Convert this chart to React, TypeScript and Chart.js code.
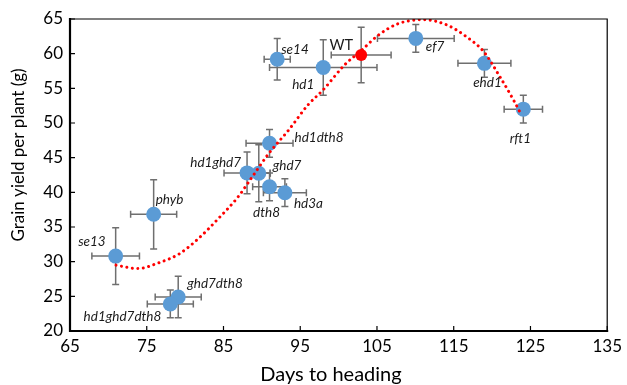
import React, { useEffect, useRef } from "react";
import { Chart, registerables } from "chart.js";

Chart.register(...registerables);

// ---- data ----
const lines: string[] = ["se13", "phyb", "ghd7dth8", "hd1ghd7dth8", "hd1ghd7", "ghd7", "dth8", "hd3a", "hd1dth8", "se14", "hd1", "ef7", "ehd1", "rft1"];
const days: number[] = [70.95, 75.9, 79.1, 78.07, 88.07, 89.6, 91.0, 93.0, 91.0, 92.0, 98.0, 110.06, 119.0, 124.07];
const yieldG: number[] = [30.8, 36.83, 24.9, 23.9, 42.8, 42.75, 40.8, 39.95, 47.07, 59.2, 58.0, 62.2, 58.6, 52.0];
const daysErr: number[] = [3.1, 3.0, 3.0, 3.0, 3.0, 1.5, 2.2, 2.8, 3.06, 1.7, 7.0, 5.0, 3.45, 2.5];
const yieldErr: number[] = [4.1, 5.0, 3.0, 2.0, 3.0, 4.1, 2.0, 2.0, 2.0, 3.0, 4.0, 2.0, 2.0, 2.0];

const wtLabel = "WT";
const wtDays: number[] = [102.94];
const wtYield: number[] = [59.8];
const wtDaysErr: number[] = [3.9];
const wtYieldErr: number[] = [4.0];

// trend curve
const trendDays: number[] = [71.0, 73.8, 76.6, 79.2, 81.8, 84.4, 86.8, 88.6, 90.9, 93.5, 96.0, 98.0, 100.8, 102.9, 105.1, 107.7, 111.1, 114.2, 116.7, 118.9, 121.0, 122.8, 123.8];
const trendYield: number[] = [29.5, 29.0, 29.85, 31.1, 33.4, 36.3, 39.2, 42.0, 45.6, 49.0, 52.6, 54.8, 58.4, 60.4, 62.6, 64.3, 64.9, 64.1, 62.4, 60.3, 56.7, 53.3, 51.2];

const xTicks: number[] = [65, 75, 85, 95, 105, 115, 125, 135];
const yTicks: number[] = [20, 25, 30, 35, 40, 45, 50, 55, 60, 65];

const xTitle = "Days to heading";
const yTitle = "Grain yield per plant (g)";

// label placement: [dx, dy, align] relative to the marker (layout only)
const labelPlacement: [number, number, CanvasTextAlign][] = [
  [-10, -14, "right"],
  [2, -15, "left"],
  [9, -13, "left"],
  [-9, 13, "right"],
  [-6, -10, "right"],
  [14, -8, "left"],
  [-3, 26, "center"],
  [9, 11, "left"],
  [25, -6, "left"],
  [4, -10, "left"],
  [-9, 17, "right"],
  [10, 8, "left"],
  [3, 19, "center"],
  [-3, 30, "center"],
];
const wtPlacement: [number, number, CanvasTextAlign] = [-8, -10, "right"];

const FONT = "Lato, 'Open Sans', sans-serif";
const BLUE = "#5b9bd5";
const RED = "#ff0000";
const BAR = "#6f6f6f";

const overlay = {
  id: "overlay",
  beforeDatasetsDraw(chart: any) {
    const { ctx, scales } = chart;
    const xs = scales.x, ys = scales.y;
    ctx.save();
    ctx.strokeStyle = BAR;
    ctx.lineWidth = 1.5;
    const cap = 3.5;
    const drawBars = (x: number, y: number, ex: number, ey: number) => {
      const px = xs.getPixelForValue(x), py = ys.getPixelForValue(y);
      const x0 = xs.getPixelForValue(x - ex), x1 = xs.getPixelForValue(x + ex);
      const y0 = ys.getPixelForValue(y - ey), y1 = ys.getPixelForValue(y + ey);
      ctx.beginPath();
      ctx.moveTo(x0, py); ctx.lineTo(x1, py);
      ctx.moveTo(x0, py - cap); ctx.lineTo(x0, py + cap);
      ctx.moveTo(x1, py - cap); ctx.lineTo(x1, py + cap);
      ctx.moveTo(px, y0); ctx.lineTo(px, y1);
      ctx.moveTo(px - cap, y0); ctx.lineTo(px + cap, y0);
      ctx.moveTo(px - cap, y1); ctx.lineTo(px + cap, y1);
      ctx.stroke();
    };
    days.forEach((d, i) => drawBars(d, yieldG[i], daysErr[i], yieldErr[i]));
    wtDays.forEach((d, i) => drawBars(d, wtYield[i], wtDaysErr[i], wtYieldErr[i]));
    ctx.restore();
  },
  afterDatasetsDraw(chart: any) {
    const { ctx, scales, chartArea } = chart;
    const xs = scales.x, ys = scales.y;
    ctx.save();
    ctx.fillStyle = "#1a1a1a";
    ctx.textBaseline = "middle";
    ctx.font = `italic 13.5px ${FONT}`;
    lines.forEach((name, i) => {
      const [dx, dy, al] = labelPlacement[i];
      ctx.textAlign = al;
      ctx.fillText(name, xs.getPixelForValue(days[i]) + dx, ys.getPixelForValue(yieldG[i]) + dy);
    });
    ctx.font = `14.5px ${FONT}`;
    ctx.textAlign = wtPlacement[2];
    ctx.fillText(wtLabel, xs.getPixelForValue(wtDays[0]) + wtPlacement[0], ys.getPixelForValue(wtYield[0]) + wtPlacement[1]);

    // frame
    const { left, right, top, bottom } = chartArea;
    ctx.strokeStyle = "#000";
    ctx.lineWidth = 1.2;
    ctx.beginPath();
    ctx.moveTo(left, top); ctx.lineTo(right, top); ctx.lineTo(right, bottom);
    ctx.stroke();
    ctx.lineWidth = 2.2;
    ctx.beginPath();
    ctx.moveTo(left, top - 1); ctx.lineTo(left, bottom); ctx.lineTo(right + 1, bottom);
    ctx.stroke();
    // inward ticks
    ctx.lineWidth = 1.2;
    ctx.beginPath();
    xTicks.forEach((t) => {
      const p = xs.getPixelForValue(t);
      ctx.moveTo(p, bottom); ctx.lineTo(p, bottom - 5);
    });
    yTicks.forEach((t) => {
      const p = ys.getPixelForValue(t);
      ctx.moveTo(left, p); ctx.lineTo(left + 5, p);
    });
    ctx.stroke();

    // axis titles
    ctx.fillStyle = "#000";
    ctx.font = `20px ${FONT}`;
    ctx.textAlign = "center";
    ctx.fillText(xTitle, 331, 375);
    ctx.font = `17px ${FONT}`;
    ctx.translate(19, 155);
    ctx.rotate(-Math.PI / 2);
    ctx.fillText(yTitle, 0, 0);
    ctx.restore();
  },
};

export default function App() {
  const ref = useRef<HTMLCanvasElement | null>(null);
  useEffect(() => {
    document.body.style.margin = "0";
    const canvas = ref.current!;
    const chart = new Chart(canvas, {
      type: "scatter",
      data: {
        datasets: [
          {
            label: "trend",
            data: trendDays.map((d, i) => ({ x: d, y: trendYield[i] })),
            showLine: true,
            borderColor: RED,
            borderWidth: 3,
            borderDash: [0.01, 5.5],
            borderCapStyle: "round",
            cubicInterpolationMode: "monotone",
            pointRadius: 0,
            order: 0,
          } as any,
          {
            label: "lines",
            data: days.map((d, i) => ({ x: d, y: yieldG[i] })),
            backgroundColor: BLUE,
            borderColor: BLUE,
            pointRadius: 7.5,
            borderWidth: 0,
            order: 1,
          },
          {
            label: wtLabel,
            data: wtDays.map((d, i) => ({ x: d, y: wtYield[i] })),
            backgroundColor: RED,
            borderColor: RED,
            pointRadius: 6,
            borderWidth: 0,
            order: 1,
          },
        ],
      },
      options: {
        animation: false,
        responsive: false,
        events: [],
        layout: { padding: { top: 19, right: 16, left: 0, bottom: 0 } },
        plugins: { legend: { display: false }, tooltip: { enabled: false } },
        scales: {
          x: {
            type: "linear",
            min: 65,
            max: 135,
            afterFit: (s: any) => { s.height = 54; },
            afterBuildTicks: (s: any) => { s.ticks = xTicks.map((v) => ({ value: v })); },
            grid: { display: false, drawTicks: false },
            border: { display: false },
            ticks: { padding: 5, color: "#000", font: { family: FONT, size: 17 } },
          },
          y: {
            type: "linear",
            min: 20,
            max: 65,
            afterFit: (s: any) => { s.width = 70; },
            afterBuildTicks: (s: any) => { s.ticks = yTicks.map((v) => ({ value: v })); },
            grid: { display: false, drawTicks: false },
            border: { display: false },
            ticks: { padding: 7, color: "#000", font: { family: FONT, size: 17 } },
          },
        },
      },
      plugins: [overlay],
    });
    return () => chart.destroy();
  }, []);
  return (
    <div style={{ width: 627, height: 385 }}>
      <canvas ref={ref} width={627} height={385} />
    </div>
  );
}
